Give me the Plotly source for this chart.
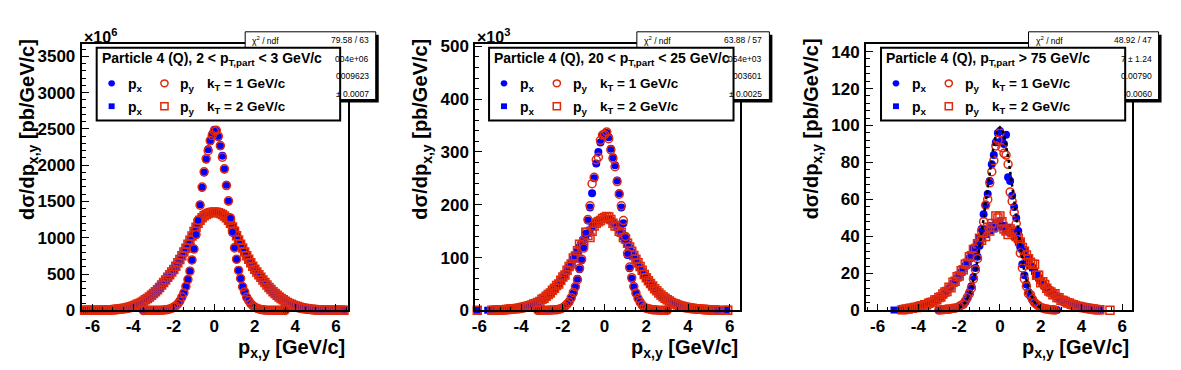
import plotly.graph_objects as go

N = None

# ---------------- data (bin centres shared by all panels) ----------------
BIN_CENTERS = [
    -6.4, -6.3, -6.2, -6.1, -6.0, -5.9, -5.8, -5.7, -5.6, -5.5,
    -5.4, -5.3, -5.2, -5.1, -5.0, -4.9, -4.8, -4.7, -4.6, -4.5,
    -4.4, -4.3, -4.2, -4.1, -4.0, -3.9, -3.8, -3.7, -3.6, -3.5,
    -3.4, -3.3, -3.2, -3.1, -3.0, -2.9, -2.8, -2.7, -2.6, -2.5,
    -2.4, -2.3, -2.2, -2.1, -2.0, -1.9, -1.8, -1.7, -1.6, -1.5,
    -1.4, -1.3, -1.2, -1.1, -1.0, -0.9, -0.8, -0.7, -0.6, -0.5,
    -0.4, -0.3, -0.2, -0.1, 0.0, 0.1, 0.2, 0.3, 0.4, 0.5,
    0.6, 0.7, 0.8, 0.9, 1.0, 1.1, 1.2, 1.3, 1.4, 1.5,
    1.6, 1.7, 1.8, 1.9, 2.0, 2.1, 2.2, 2.3, 2.4, 2.5,
    2.6, 2.7, 2.8, 2.9, 3.0, 3.1, 3.2, 3.3, 3.4, 3.5,
    3.6, 3.7, 3.8, 3.9, 4.0, 4.1, 4.2, 4.3, 4.4, 4.5,
    4.6, 4.7, 4.8, 4.9, 5.0, 5.1, 5.2, 5.3, 5.4, 5.5,
    5.6, 5.7, 5.8, 5.9, 6.0, 6.1, 6.2, 6.3, 6.4,
]

# Panel 1: 2 < pT,part < 3 GeV/c   (values in units of 10^6 pb/GeV/c)
P1_PX_K1 = [
    N, N, N, N, N, N, N, N, N, N,
    N, N, N, N, N, N, N, N, N, N,
    N, N, N, N, N, N, N, N, N, 0.2,
    0.3, 0.4, 0.5, 0.7, 1, 1, 1, 2, 3, 5,
    8, 13, 20, 30, 44, 64, 92, 130, 180, 245,
    325, 430, 545, 690, 850, 1040, 1250, 1460, 1690, 1900,
    2080, 2220, 2330, 2430, 2490, 2470, 2390, 2260, 2130, 1940,
    1730, 1500, 1280, 1070, 870, 700, 555, 435, 330, 250,
    182, 132, 94, 65, 45, 30, 20, 13, 8, 5,
    3, 2, 1, 1, 1, 0.7, 0.5, 0.4, 0.3, 0.2,
    N, N, N, N, N, N, N, N, N, N,
    N, N, N, N, N, N, N, N, N, N,
    N, N, N, N, N, N, N, N, N,
]
P1_PY_K1 = [
    N, N, N, N, N, N, N, N, N, N,
    N, N, N, N, N, N, N, N, N, N,
    N, N, N, N, N, N, N, N, N, 0.2,
    0.3, 0.4, 0.6, 0.7, 1, 1, 2, 2, 3, 5,
    8, 12, 19, 29, 45, 62, 90, 128, 183, 240,
    330, 425, 540, 695, 845, 1045, 1240, 1450, 1700, 1910,
    2090, 2200, 2340, 2410, 2470, 2480, 2400, 2270, 2110, 1950,
    1720, 1510, 1270, 1080, 860, 705, 550, 440, 325, 255,
    180, 135, 92, 66, 44, 31, 19, 13, 8, 5,
    3, 2, 2, 1, 1, 0.7, 0.5, 0.4, 0.3, 0.2,
    N, N, N, N, N, N, N, N, N, N,
    N, N, N, N, N, N, N, N, N, N,
    N, N, N, N, N, N, N, N, N,
]
P1_PX_K2 = [
    0.4, 0.5, 0.6, 0.8, 1.0, 1.2, 1.5, 1.9, 2.4, 3.0,
    3.8, 4.8, 6, 7, 9, 11, 14, 17, 21, 25,
    30, 36, 43, 51, 60, 70, 82, 95, 109, 125,
    143, 163, 184, 206, 230, 256, 284, 314, 346, 380,
    416, 452, 488, 524, 560, 604, 650, 698, 748, 800,
    852, 906, 962, 1020, 1082, 1142, 1198, 1238, 1272, 1300,
    1318, 1332, 1343, 1350, 1352, 1350, 1343, 1332, 1318, 1300,
    1275, 1240, 1200, 1150, 1090, 1025, 968, 910, 855, 805,
    752, 700, 652, 606, 563, 525, 490, 455, 418, 382,
    346, 314, 284, 256, 230, 206, 184, 163, 143, 125,
    109, 95, 82, 70, 60, 51, 43, 36, 30, 25,
    21, 17, 14, 11, 9, 7, 6, 4.8, 3.8, 3.0,
    2.4, 1.9, 1.5, 1.2, 1.0, 0.8, 0.6, 0.5, 0.4,
]
P1_PY_K2 = [
    0.4, 0.5, 0.7, 0.8, 1.0, 1.3, 1.5, 1.9, 2.3, 3.1,
    3.9, 4.7, 6, 7.5, 9, 11, 14, 18, 21, 26,
    30, 37, 44, 51, 61, 71, 83, 96, 110, 127,
    145, 165, 186, 208, 232, 258, 286, 316, 349, 383,
    419, 455, 491, 528, 565, 608, 655, 702, 752, 804,
    856, 910, 966, 1024, 1086, 1146, 1202, 1242, 1276, 1304,
    1322, 1336, 1346, 1352, 1354, 1352, 1345, 1334, 1320, 1302,
    1276, 1242, 1202, 1150, 1090, 1028, 970, 912, 858, 806,
    754, 703, 655, 608, 566, 528, 492, 456, 420, 384,
    350, 317, 287, 258, 232, 208, 186, 165, 145, 127,
    110, 96, 83, 71, 61, 52, 44, 37, 31, 26,
    21, 17, 14, 11, 9, 7, 6, 5, 3.9, 3.1,
    2.5, 1.9, 1.5, 1.2, 1.0, 0.8, 0.6, 0.5, 0.4,
]

# Panel 2: 20 < pT,part < 25 GeV/c   (values in units of 10^3 pb/GeV/c)
P2_PX_K1 = [
    N, N, N, N, N, N, N, N, N, N,
    N, N, N, N, N, N, N, N, N, N,
    N, N, N, N, N, N, N, N, N, N,
    N, N, 0.1, 0.1, 0.2, 0.2, 0.3, 0.4, 0.5, 0.7,
    1, 1, 2, 3, 5, 7, 11, 17, 23, 32,
    44, 60, 78, 95, 120, 145, 170, 195, 222, 250,
    278, 300, 318, 330, 335, 336, 328, 306, 290, 275,
    246, 222, 195, 165, 136, 105, 80, 60, 44, 32,
    22, 15, 9, 6, 4, 3, 2, 1, 1, 0.7,
    0.5, 0.4, 0.3, 0.2, 0.1, N, N, N, N, N,
    N, N, N, N, N, N, N, N, N, N,
    N, N, N, N, N, N, N, N, N, N,
    N, N, N, N, N, N, N, N, N,
]
P2_PY_K1 = [
    N, N, N, N, N, N, N, N, N, N,
    N, N, N, N, N, N, N, N, N, N,
    N, N, N, N, N, N, N, N, N, N,
    N, N, 0.1, 0.1, 0.2, 0.3, 0.3, 0.4, 0.6, 0.8,
    1, 1, 2, 3, 5, 8, 12, 16, 24, 34,
    45, 58, 80, 97, 118, 148, 172, 198, 240, 252,
    285, 290, 322, 332, 333, 338, 325, 304, 288, 272,
    244, 220, 198, 170, 140, 108, 82, 62, 45, 33,
    23, 16, 10, 6, 4, 3, 2, 1, 1, 0.7,
    0.5, 0.4, 0.3, 0.2, 0.1, N, N, N, N, N,
    N, N, N, N, N, N, N, N, N, N,
    N, N, N, N, N, N, N, N, N, N,
    N, N, N, N, N, N, N, N, N,
]
P2_PX_K2 = [
    N, N, N, 0.2, N, N, N, N, 0.3, N,
    N, 0.4, 0.5, 0.6, 0.8, 1, 1, 2, 2, 2,
    3, 3, 4, 4, 5, 6, 7, 8, 9, 10,
    11, 13, 15, 18, 20, 23, 26, 29, 33, 37,
    41, 46, 51, 56, 62, 68, 75, 82, 89, 97,
    104, 111, 119, 126, 134, 140, 146, 152, 158, 163,
    167, 170, 172, 173, 172, 173, 172, 170, 167, 163,
    158, 152, 146, 140, 133, 125, 118, 110, 103, 96,
    88, 81, 74, 67, 61, 55, 50, 45, 40, 36,
    32, 28, 25, 22, 19, 17, 15, 13, 11, 10,
    9, 8, 7, 6, 5, 4, 4, 3, 3, 2,
    2, 2, 1, 1, 1, 0.8, N, 0.5, 0.4, N,
    N, N, 0.3, N, N, N, N, N, N,
]
P2_PY_K2 = [
    N, N, N, 0.2, N, N, N, N, N, N,
    0.3, 0.3, 0.4, 0.6, 0.7, 1, 1, 1.5, 2, 2.5,
    3, 3, 3.5, 4, 5, 6, 7, 8, 9, 10,
    12, 13, 15, 17, 21, 23, 27, 30, 33, 38,
    42, 47, 50, 57, 63, 67, 76, 83, 88, 99,
    103, 113, 125, 122, 130, 148, 142, 138, 150, 160,
    165, 168, 170, 174, 176, 178, 177, 172, 165, 160,
    160, 150, 148, 138, 135, 127, 120, 112, 104, 97,
    90, 83, 76, 68, 62, 56, 51, 46, 41, 37,
    33, 29, 26, 23, 20, 18, 15, 13, 12, 10,
    9, 8, 7, 6, 5, 4.5, 4, 3, 3, 2.5,
    2, 2, 1.5, 1, 1, 0.8, 0.7, 0.6, 0.5, N,
    N, N, 0.3, 0.3, N, N, N, N, N,
]

# Panel 3: pT,part > 75 GeV/c   (values in pb/GeV/c)
P3_PX_K1 = [
    N, N, N, N, N, N, N, N, N, N,
    N, N, N, N, N, N, N, N, N, N,
    N, N, N, N, N, N, N, N, N, N,
    N, N, N, N, 0.3, 0.4, 0.5, 0.6, 0.5, 0.8,
    0.9, 1.0, 1.3, 1.6, 2.0, 2.6, 3.5, 4.6, 6.5, 9.8,
    13, 18, 23, 29, 35, 44, 52, 57, 63, 70,
    79, 84, 91, 96, 97, 92, 90, 95, 72, 70,
    62, 56, 50, 43, 34, 25, 19, 14, 10, 7.5,
    5.5, 4, 3, 2.2, 1.6, 1.2, 1.0, 0.8, 0.6, 0.5,
    0.4, 0.3, 0.2, N, N, N, N, N, N, N,
    N, N, N, N, N, N, N, N, N, N,
    N, N, N, N, N, N, N, N, N, N,
    N, N, N, N, N, N, N, N, N,
]
P3_PY_K1 = [
    N, N, N, N, N, N, N, N, N, N,
    N, N, N, N, N, N, N, N, N, N,
    N, N, N, N, N, N, N, N, N, N,
    N, N, N, N, 0.2, 0.3, 0.4, 0.5, 0.7, 0.6,
    0.9, 1.1, 1.2, 1.5, 2.1, 2.8, 3.3, 5.0, 7.0, 9.0,
    12, 17, 22, 28, 37, 43, 48, 57, 60, 69,
    75, 81, 89, 92, 96, 88, 85, 84, 79, 64,
    59, 53, 47, 40, 31, 23, 17, 13, 9, 8.5,
    6, 4.2, 3.2, 2.5, 1.5, 1.3, 0.9, 0.7, 0.5, 0.4,
    0.3, 0.2, N, N, N, N, N, N, N, N,
    N, N, N, N, N, N, N, N, N, N,
    N, N, N, N, N, N, N, N, N, N,
    N, N, N, N, N, N, N, N, N,
]
P3_PX_K2 = [
    N, N, N, N, N, N, N, N, N, N,
    N, N, 0.2, N, N, 0.2, 0.4, 0.5, 0.6, 0.8,
    1.0, 1.1, 1.3, 1.6, 1.9, 2.2, 2.5, 2.8, 3.2, 3.5,
    4.0, 4.6, 5.2, 6.0, 6.6, 7.5, 8.3, 9.3, 10.8, 11.8,
    13, 14.5, 16, 17.5, 19, 20.5, 22.5, 24, 26, 28,
    30, 33, 34, 36, 39, 39, 42, 41, 44, 43,
    46, 44, 47, 46, 48, 45, 46, 43, 45, 42,
    43, 40, 41, 37, 37, 33, 32, 28, 28, 24,
    23, 21, 19, 17.5, 16, 14.5, 13, 12, 11, 10,
    9, 8, 7.3, 6.5, 5.8, 5.2, 4.6, 4.1, 3.7, 3.3,
    2.9, 2.6, 2.3, 2.0, 1.8, 1.5, 1.3, 1.1, 0.9, 0.7,
    0.6, 0.5, 0.4, 0.3, N, N, N, N, N, N,
    N, N, N, N, N, N, N, N, N,
]
P3_PY_K2 = [
    N, N, N, N, N, N, N, N, N, N,
    N, N, N, N, N, N, 0.3, 0.5, 0.7, 0.7,
    1.1, 1.2, 1.5, 1.5, 2.0, 2.4, 2.4, 3.0, 3.0, 3.8,
    4.3, 4.4, 5.6, 5.8, 7.0, 7.2, 8.8, 10, 10.2, 12.5,
    12.3, 15.2, 15.8, 18.2, 18.6, 21.5, 22, 25, 25.5, 29,
    29.5, 33, 33.5, 36, 39, 38, 42, 40, 45, 43,
    47, 45, 51, 50, 51, 48, 44, 43, 41, 44,
    42, 43, 40, 39, 37, 34, 32, 30, 28, 26,
    25, 25, 19, 19, 15, 15.5, 14, 12, 10.5, 10,
    8.5, 9, 7, 6.8, 5.5, 5.4, 4.8, 4.2, 4.0, 3.3,
    3.0, 2.7, 2.2, 2.1, 1.8, 1.5, 1.4, 1.1, 1.0, 0.8,
    0.7, 0.5, 0.4, 0.3, N, N, N, N, 0.1, N,
    N, N, N, N, N, N, N, N, N,
]
P3_FIT = [
    N, N, N, N, N, N, N, N, N, N,
    N, N, N, N, N, N, N, N, N, N,
    N, N, N, N, N, N, N, N, N, N,
    N, N, N, N, N, N, N, N, N, N,
    N, N, N, N, 1.3, 2.0, 3.0, 4.4, 6.3, 8.8,
    12.1, 16.2, 21.2, 27.2, 34.0, 41.7, 49.9, 58.5, 67.1, 75.4,
    83.1, 89.8, 94.9, 97.9, 99.0, 97.9, 94.9, 89.8, 83.1, 75.4,
    67.1, 58.5, 49.9, 41.7, 34.0, 27.2, 21.2, 16.2, 12.1, 8.8,
    6.3, 4.4, 3.0, 2.0, 1.3, N, N, N, N, N,
    N, N, N, N, N, N, N, N, N, N,
    N, N, N, N, N, N, N, N, N, N,
    N, N, N, N, N, N, N, N, N, N,
    N, N, N, N, N, N, N, N, N,
]

X_TICKS = [-6, -4, -2, 0, 2, 4, 6]

PANEL_TITLES = [
    "Particle 4 (Q), 2 < p<sub>T,part</sub> < 3 GeV/c",
    "Particle 4 (Q), 20 < p<sub>T,part</sub> < 25 GeV/c",
    "Particle 4 (Q), p<sub>T,part</sub> > 75 GeV/c",
]
EXPONENTS = ["×10<sup>6</sup>", "×10<sup>3</sup>", None]
STAT_TEXTS = [
    ["79.58 / 63", "004e+06", "0009623", "± 0.0007"],
    ["63.88 / 57", "054e+03", "003601", "± 0.0025"],
    ["48.92 / 47", "7 ± 1.24", "0.00790", "0.0060"],
]

for arr in [P1_PX_K1, P1_PY_K1, P1_PX_K2, P1_PY_K2, P2_PX_K1, P2_PY_K1, P2_PX_K2,
            P2_PY_K2, P3_PX_K1, P3_PY_K1, P3_PX_K2, P3_PY_K2, P3_FIT]:
    assert len(arr) == len(BIN_CENTERS), len(arr)

# ---------------- layout geometry (pixels) ----------------
W, H = 1181, 370
FONT = "Liberation Sans, Arial, Helvetica, sans-serif"
BLUE = "rgb(0,0,255)"
RED = "rgb(224,42,12)"

PANELS = [
    dict(data=(P1_PX_K1, P1_PY_K1, P1_PX_K2, P1_PY_K2), fit=None,
         frame=(78, 345, 39, 318), xr=[-6.54, 6.59], yr=[0, 3667], dy=500, mdy=100,
         legend=(93, 42.7, 337.3, 119), stat=(242, 26, 373, 97)),
    dict(data=(P2_PX_K1, P2_PY_K1, P2_PX_K2, P2_PY_K2), fit=None,
         frame=(473, 739, 39, 318), xr=[-6.19, 6.51], yr=[0, 504], dy=100, mdy=20,
         legend=(486.7, 42.7, 732, 119), stat=(635, 26, 768, 97)),
    dict(data=(P3_PX_K1, P3_PY_K1, P3_PX_K2, P3_PY_K2), fit=P3_FIT,
         frame=(865, 1132, 39, 318), xr=[-6.57, 6.49], yr=[0, 144], dy=20, mdy=4,
         legend=(880, 42.7, 1125, 119), stat=(1028, 26, 1158.5, 97)),
]


def X(p):
    return p / W


def Y(p):
    return 1 - p / H


def txt(x, y, s, size, xanchor="left", yanchor="middle", bold=True, angle=0):
    return dict(x=X(x), y=Y(y), xref="paper", yref="paper", text=s, showarrow=False,
                xanchor=xanchor, yanchor=yanchor, textangle=angle,
                font=dict(family=FONT, size=size, color="black",
                          weight="bold" if bold else "normal"))


fig = go.Figure()
annotations = []
shapes = []

for i, P in enumerate(PANELS):
    k = "" if i == 0 else str(i + 1)
    xa, ya = "x" + k, "y" + k
    px_k1, py_k1, px_k2, py_k2 = P["data"]
    series = [
        (px_k2, "square", BLUE, 7, 0, "p<sub>x</sub>, k<sub>T</sub> = 2 GeV/c"),
        (py_k2, "square-open", RED, 8, 1.5, "p<sub>y</sub>, k<sub>T</sub> = 2 GeV/c"),
        (px_k1, "circle", BLUE, 8, 0, "p<sub>x</sub>, k<sub>T</sub> = 1 GeV/c"),
        (py_k1, "circle-open", RED, 8, 1.5, "p<sub>y</sub>, k<sub>T</sub> = 1 GeV/c"),
    ]
    for vals, sym, col, size, lw, name in series:
        fig.add_trace(go.Scatter(
            x=BIN_CENTERS, y=vals, mode="markers", xaxis=xa, yaxis=ya, name=name,
            showlegend=False, cliponaxis=False,
            marker=dict(symbol=sym, size=size, color=col,
                        line=dict(color=col, width=lw))))
    if P["fit"] is not None:
        fig.add_trace(go.Scatter(
            x=BIN_CENTERS, y=P["fit"], mode="lines", xaxis=xa, yaxis=ya,
            showlegend=False, name="fit",
            line=dict(color="black", width=2.5, dash="dot")))

    l, r, t, b = P["frame"]
    axis_common = dict(showline=True, linecolor="black", linewidth=2, mirror=True,
                       showgrid=False, zeroline=False, ticks="inside",
                       tickcolor="black", tickwidth=1,
                       tickfont=dict(family=FONT, size=17, color="black", weight="bold"))
    fig.layout["xaxis" + k] = dict(
        domain=[X(l), X(r)], range=P["xr"], anchor=ya,
        tickvals=X_TICKS, ticktext=[str(v) for v in X_TICKS], ticklen=6,
        ticklabelstandoff=-1,
        minor=dict(dtick=0.5, tick0=0, ticks="inside", ticklen=3, tickcolor="black"),
        **axis_common)
    fig.layout["yaxis" + k] = dict(
        domain=[Y(b), Y(t)], range=P["yr"], anchor=xa, dtick=P["dy"], tick0=0,
        ticklen=7, ticklabelstandoff=1,
        minor=dict(dtick=P["mdy"], tick0=0, ticks="inside", ticklen=4, tickcolor="black"),
        **axis_common)

    # axis titles
    annotations.append(txt(r - 1, 358, "p<sub>x,y</sub> [GeV/c]", 20,
                           xanchor="right", yanchor="middle"))
    annotations.append(txt(l - 54, 128, "dσ/dp<sub>x,y</sub> [pb/GeV/c]", 20,
                           xanchor="center", yanchor="middle", angle=-90))
    if EXPONENTS[i]:
        annotations.append(txt(l, 30, EXPONENTS[i], 16, xanchor="left", yanchor="middle"))

    # statistics box (partly hidden behind the legend)
    sl, st, sr, sb = P["stat"]
    shapes.append(dict(type="rect", xref="paper", yref="paper",
                       x0=X(sl + 3), x1=X(sr + 3), y0=Y(sb + 3), y1=Y(st + 3),
                       fillcolor="black", line=dict(width=0), layer="above"))
    shapes.append(dict(type="rect", xref="paper", yref="paper",
                       x0=X(sl), x1=X(sr), y0=Y(sb), y1=Y(st),
                       fillcolor="white", line=dict(color="black", width=1), layer="above"))
    rows_y = [35, 54, 72.5, 91]
    annotations.append(txt(sl + 5, rows_y[0], "χ<sup>2</sup> / ndf", 8.5, bold=False))
    for yy, s in zip(rows_y, STAT_TEXTS[i]):
        annotations.append(txt(sr - 5, yy, s, 8.5, xanchor="right", bold=False))

    # legend box
    gl, gt, gr, gb = P["legend"]
    shapes.append(dict(type="rect", xref="paper", yref="paper",
                       x0=X(gl), x1=X(gr), y0=Y(gb), y1=Y(gt),
                       fillcolor="white", line=dict(color="black", width=2), layer="above"))
    annotations.append(txt(gl + 3, 54, PANEL_TITLES[i], 14))
    for row_y, shp, ktxt in [(80, "circle", "k<sub>T</sub> = 1 GeV/c"),
                             (104, "rect", "k<sub>T</sub> = 2 GeV/c")]:
        c1 = gl + 15
        c2 = gl + 68
        rr = 3.3 if shp == "circle" else 3.0
        shapes.append(dict(type=shp, xref="paper", yref="paper",
                           x0=X(c1 - rr), x1=X(c1 + rr), y0=Y(row_y + rr), y1=Y(row_y - rr),
                           fillcolor=BLUE, line=dict(color=BLUE, width=0), layer="above"))
        rr2 = 3.6
        shapes.append(dict(type=shp, xref="paper", yref="paper",
                           x0=X(c2 - rr2), x1=X(c2 + rr2), y0=Y(row_y + rr2), y1=Y(row_y - rr2),
                           fillcolor="rgba(0,0,0,0)", line=dict(color=RED, width=1.5),
                           layer="above"))
        annotations.append(txt(gl + 29, row_y + 2, "p<sub>x</sub>", 14))
        annotations.append(txt(gl + 82, row_y + 2, "p<sub>y</sub>", 14))
        annotations.append(txt(gl + 109, row_y + 1, ktxt, 13.5))

fig.update_layout(
    width=W, height=H, margin=dict(l=0, r=0, t=0, b=0),
    paper_bgcolor="white", plot_bgcolor="white", showlegend=False,
    annotations=annotations, shapes=shapes,
)

fig.write_html("out.html",
               config={"displayModeBar": False},
               post_script="document.body.style.margin='0px';"
                           "document.body.style.overflow='hidden';")
